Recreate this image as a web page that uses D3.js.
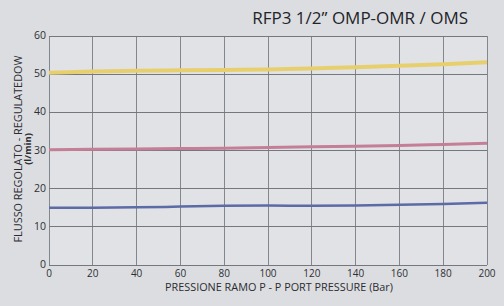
<!DOCTYPE html>
<html>
<head>
<meta charset="utf-8">
<script src="https://cdn.jsdelivr.net/npm/d3@7"></script>
<style>
  html, body { margin: 0; padding: 0; background: #dcdde1; }
  svg { display: block; }
</style>
</head>
<body>
<div id="chart"></div>
<script>
// Data
const pressure = [0, 20, 40, 60, 80, 100, 120, 140, 160, 180, 200];
const flowYellow = [50.4, 50.7, 50.9, 51.0, 51.1, 51.2, 51.5, 51.8, 52.2, 52.6, 53.1];
const flowPink = [30.2, 30.3, 30.4, 30.5, 30.6, 30.8, 31.0, 31.1, 31.3, 31.6, 31.9];
const flowBlue = [15.0, 15.0, 15.1, 15.3, 15.5, 15.6, 15.5, 15.6, 15.8, 16.0, 16.3];
const xTicks = [0, 20, 40, 60, 80, 100, 120, 140, 160, 180, 200];
const yTicks = [0, 10, 20, 30, 40, 50, 60];

const width = 504, height = 306;
const margin = { top: 36, right: 16, bottom: 41, left: 49 };
const font = "'Open Sans', 'DejaVu Sans', sans-serif";

const svg = d3.select('#chart').append('svg')
  .attr('width', width).attr('height', height);

svg.append('rect').attr('width', width).attr('height', height).attr('fill', '#dcdde1');

const x = d3.scaleLinear().domain([0, 200]).range([margin.left, width - margin.right - 1]);
const y = d3.scaleLinear().domain([0, 60]).range([height - margin.bottom, margin.top]);

// plot background
svg.append('rect')
  .attr('x', x(0)).attr('y', y(60))
  .attr('width', x(200) - x(0)).attr('height', y(0) - y(60))
  .attr('fill', '#e1e2e6');

// Grid
svg.append('g').selectAll('line').data(xTicks).join('line')
  .attr('x1', d => x(d)).attr('x2', d => x(d))
  .attr('y1', y(0)).attr('y2', y(60))
  .attr('stroke', '#85878e').attr('stroke-width', 1)
  .attr('shape-rendering', 'crispEdges');

svg.append('g').selectAll('line').data(yTicks).join('line')
  .attr('x1', x(0)).attr('x2', x(200))
  .attr('y1', d => y(d)).attr('y2', d => y(d))
  .attr('stroke', '#75777e').attr('stroke-width', 1)
  .attr('shape-rendering', 'crispEdges');

// Tick labels
svg.append('g').selectAll('text').data(xTicks).join('text')
  .attr('x', d => x(d)).attr('y', y(0) + 12)
  .attr('text-anchor', 'middle')
  .attr('font-family', font).attr('font-size', '10px')
  .attr('fill', '#2e2f33')
  .text(d => d);

svg.append('g').selectAll('text').data(yTicks).join('text')
  .attr('x', x(0) - 3).attr('y', d => y(d) + 3)
  .attr('text-anchor', 'end')
  .attr('font-family', font).attr('font-size', '10.5px')
  .attr('fill', '#2e2f33')
  .text(d => d);

// Lines
const series = [
  { values: flowYellow, color: '#e8cf6e', w: 4 },
  { values: flowPink, color: '#c47f96', w: 3 },
  { values: flowBlue, color: '#5c6aa6', w: 2.5 }
];

const line = d3.line()
  .x((d, i) => x(pressure[i]))
  .y(d => y(d))
  .curve(d3.curveMonotoneX);

series.forEach(s => {
  svg.append('path')
    .datum(s.values)
    .attr('d', line)
    .attr('fill', 'none')
    .attr('stroke', s.color)
    .attr('stroke-width', s.w)
    .attr('stroke-linecap', 'butt');
});

// Title
svg.append('text')
  .attr('x', 468).attr('y', 24)
  .attr('text-anchor', 'end')
  .attr('font-family', font).attr('font-size', '17px')
  .attr('fill', '#232428')
  .text('RFP3 1/2\u201D OMP-OMR / OMS');

// Axis titles
svg.append('text')
  .attr('x', 165).attr('y', 291)
  .attr('font-family', font).attr('font-size', '10px')
  .attr('fill', '#2b2c30')
  .attr('textLength', 228).attr('lengthAdjust', 'spacingAndGlyphs')
  .text('PRESSIONE RAMO P - P PORT PRESSURE (Bar)');

const yl = svg.append('g').attr('transform', 'translate(22,149) rotate(-90)');
yl.append('text')
  .attr('x', 0).attr('y', 0)
  .attr('text-anchor', 'middle')
  .attr('font-family', font).attr('font-size', '10.5px')
  .attr('fill', '#2b2c30')
  .attr('textLength', 187).attr('lengthAdjust', 'spacingAndGlyphs')
  .text('FLUSSO REGOLATO - REGULATEDOW');
yl.append('text')
  .attr('x', 0).attr('y', 9)
  .attr('text-anchor', 'middle')
  .attr('font-family', font).attr('font-size', '9.5px')
  .attr('font-weight', 'bold')
  .attr('fill', '#2b2c30')
  .text('(l/min)');
</script>
</body>
</html>
